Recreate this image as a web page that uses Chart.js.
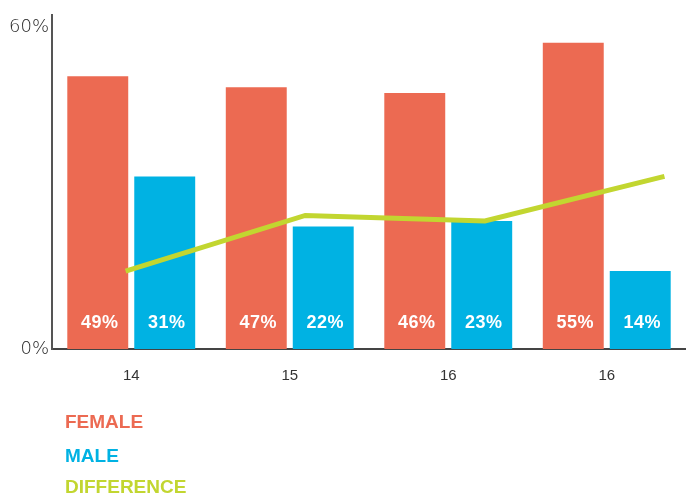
<!DOCTYPE html>
<html>
<head>
<meta charset="utf-8">
<script src="https://cdn.jsdelivr.net/npm/chart.js@4/dist/chart.umd.min.js"></script>
<style>
  html, body { margin: 0; padding: 0; background: #fff; }
  #wrap { position: relative; width: 686px; height: 496px; }
  canvas { display: block; }
  #c2 { position: absolute; left: 0; top: 0; }
  .leg { position: absolute; left: 65px; font-family: "Liberation Sans", Arial, sans-serif; font-weight: bold; font-size: 19px; line-height: normal; white-space: nowrap; }
</style>
</head>
<body>
<div id="wrap">
  <canvas id="c" width="686" height="496"></canvas>
  <canvas id="c2" width="686" height="496"></canvas>
  <div class="leg" id="lg0" style="top:411px"></div>
  <div class="leg" id="lg1" style="top:445px"></div>
  <div class="leg" id="lg2" style="top:476px"></div>
</div>
<script>
const categories = ['14', '15', '16', '16'];
const femaleValues = [49, 47, 46, 55];
const maleValues = [31, 22, 23, 14];
const differenceValues = [14, 24, 23, 31];
const yTickValues = [0, 60];
const seriesNames = ['FEMALE', 'MALE', 'DIFFERENCE'];

const COLORS = ['#EC6A52', '#00B2E3', '#C2D630'];
const Y_MIN = 0, Y_MAX = 60;

seriesNames.forEach((n, i) => {
  const el = document.getElementById('lg' + i);
  el.textContent = n;
  el.style.color = COLORS[i];
});

const barLabels = {
  id: 'barLabels',
  afterDatasetsDraw(chart) {
    const ctx = chart.ctx;
    const bottom = chart.chartArea.bottom;
    ctx.save();
    ctx.font = 'bold 18px "Liberation Sans", Arial, sans-serif';
    ctx.fillStyle = '#ffffff';
    ctx.textAlign = 'center';
    ctx.textBaseline = 'middle';
    try { ctx.letterSpacing = '0.5px'; } catch (e) {}
    chart.data.datasets.forEach((ds, di) => {
      const meta = chart.getDatasetMeta(di);
      meta.data.forEach((bar, i) => {
        ctx.fillText(ds.data[i] + '%', bar.x + 2, bottom - 26);
      });
    });
    ctx.restore();
  }
};

// Main chart: bars and axes
new Chart(document.getElementById('c'), {
  type: 'bar',
  data: {
    labels: categories,
    datasets: [
      { label: seriesNames[0], data: femaleValues, backgroundColor: COLORS[0],
        categoryPercentage: 0.845, barPercentage: 0.91 },
      { label: seriesNames[1], data: maleValues, backgroundColor: COLORS[1],
        categoryPercentage: 0.845, barPercentage: 0.91 }
    ]
  },
  options: {
    responsive: false,
    animation: false,
    layout: { padding: { top: 15, right: 0, left: 0, bottom: 107 } },
    plugins: { legend: { display: false }, tooltip: { enabled: false } },
    scales: {
      x: {
        type: 'category',
        grid: { display: false, drawTicks: false },
        border: { display: true, color: '#444', width: 2 },
        ticks: { color: '#333', padding: 18, font: { family: '"Liberation Sans", Arial, sans-serif', size: 15 } },
        afterFit(s) { s.height = 40; }
      },
      y: {
        min: Y_MIN, max: Y_MAX,
        grid: { display: false, drawTicks: false },
        border: { display: true, color: '#555', width: 2 },
        afterBuildTicks(s) { s.ticks = yTickValues.map(v => ({ value: v })); },
        ticks: {
          color: '#2a2a2a', padding: 3,
          font: { family: '"DejaVu Sans", sans-serif', size: 18, weight: 200, lineHeight: 1.4 },
          callback: v => v === Y_MAX ? ['', v + '%'] : v + '%'
        },
        afterFit(s) { s.width = 52; s.paddingTop = 0; s.paddingBottom = 0; }
      }
    }
  },
  plugins: [barLabels]
});

// Overlay chart: the difference line, same plot area (52..686 x 15..349)
new Chart(document.getElementById('c2'), {
  type: 'line',
  data: {
    datasets: [
      { label: seriesNames[2], data: differenceValues.map((v, i) => ({ x: i, y: v })),
        borderColor: COLORS[2], backgroundColor: COLORS[2], borderWidth: 5, pointRadius: 0,
        tension: 0, borderCapStyle: 'butt', borderJoinStyle: 'miter' }
    ]
  },
  options: {
    responsive: false,
    animation: false,
    layout: { padding: { top: 15, right: 0, left: 52, bottom: 147 } },
    plugins: { legend: { display: false }, tooltip: { enabled: false } },
    scales: {
      x: { type: 'linear', display: false, min: -0.41, max: 3.12, offset: false },
      y: { type: 'linear', display: false, min: Y_MIN, max: Y_MAX }
    }
  }
});
</script>
</body>
</html>
